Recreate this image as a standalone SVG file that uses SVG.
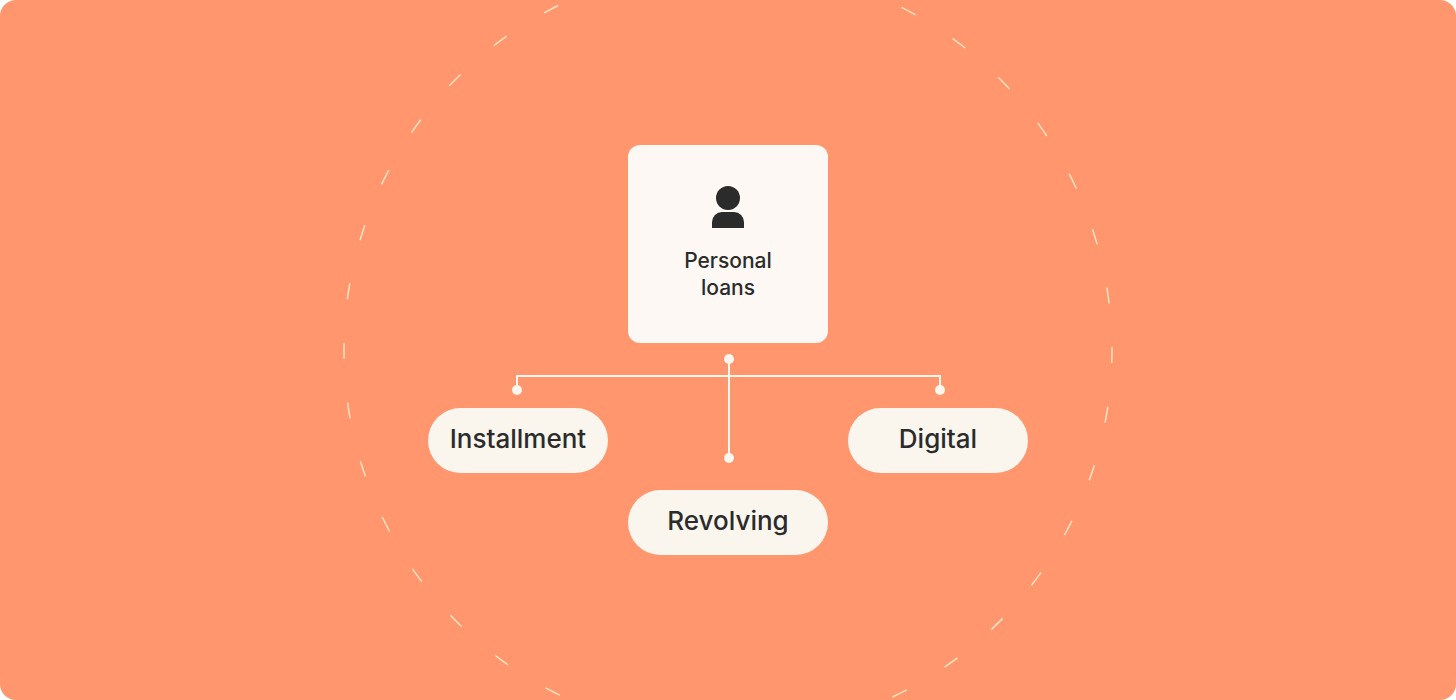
<svg xmlns="http://www.w3.org/2000/svg" width="1456" height="700" viewBox="0 0 1456 700">
<style>
.card{fill:#FDF8F3}
.pill{fill:#FAF6EE}
.t{font-family:Inter,"Liberation Sans",sans-serif;fill:#2B2B2B;text-anchor:middle}
.big{font-size:26px;font-weight:500}
.sm{font-size:21px;font-weight:500}
.ln{stroke:#FFF7EC;stroke-width:2;fill:none}
.dot{fill:#FFF7EC}
</style>
<rect width="1456" height="700" fill="#ffffff"/>
<rect width="1456" height="700" rx="16" fill="#FF966E"/>
<circle cx="728" cy="350" r="384" fill="none" stroke="#FDE3C0" stroke-width="1.5" stroke-dasharray="16 44" transform="rotate(-90 728 350)"/>
<g id="personal-loans">
<rect class="card" x="628" y="145" width="200" height="198" rx="12"/>
<circle cx="728" cy="198" r="12" fill="#2B2B2B"/>
<path d="M712 228 v-6 a10 10 0 0 1 10 -10 h12 a10 10 0 0 1 10 10 v6 z" fill="#2B2B2B"/>
<text class="t sm" x="728" y="268">Personal</text>
<text class="t sm" x="728" y="295">loans</text>
</g>
<g id="installment">
<rect class="pill" x="428" y="408" width="180" height="65" rx="32.5"/>
<text class="t big" x="518" y="448">Installment</text>
</g>
<g id="digital">
<rect class="pill" x="848" y="408" width="180" height="65" rx="32.5"/>
<text class="t big" x="938" y="448">Digital</text>
</g>
<g id="revolving">
<rect class="pill" x="628" y="490" width="200" height="65" rx="32.5"/>
<text class="t big" x="728" y="530">Revolving</text>
</g>
<g id="connectors">
<path class="ln" d="M729 359 V458 M517 390 V376 H940 V390"/>
<circle class="dot" cx="729" cy="359" r="5"/>
<circle class="dot" cx="729" cy="458" r="5"/>
<circle class="dot" cx="517" cy="390" r="5"/>
<circle class="dot" cx="940" cy="390" r="5"/>
</g>
</svg>
